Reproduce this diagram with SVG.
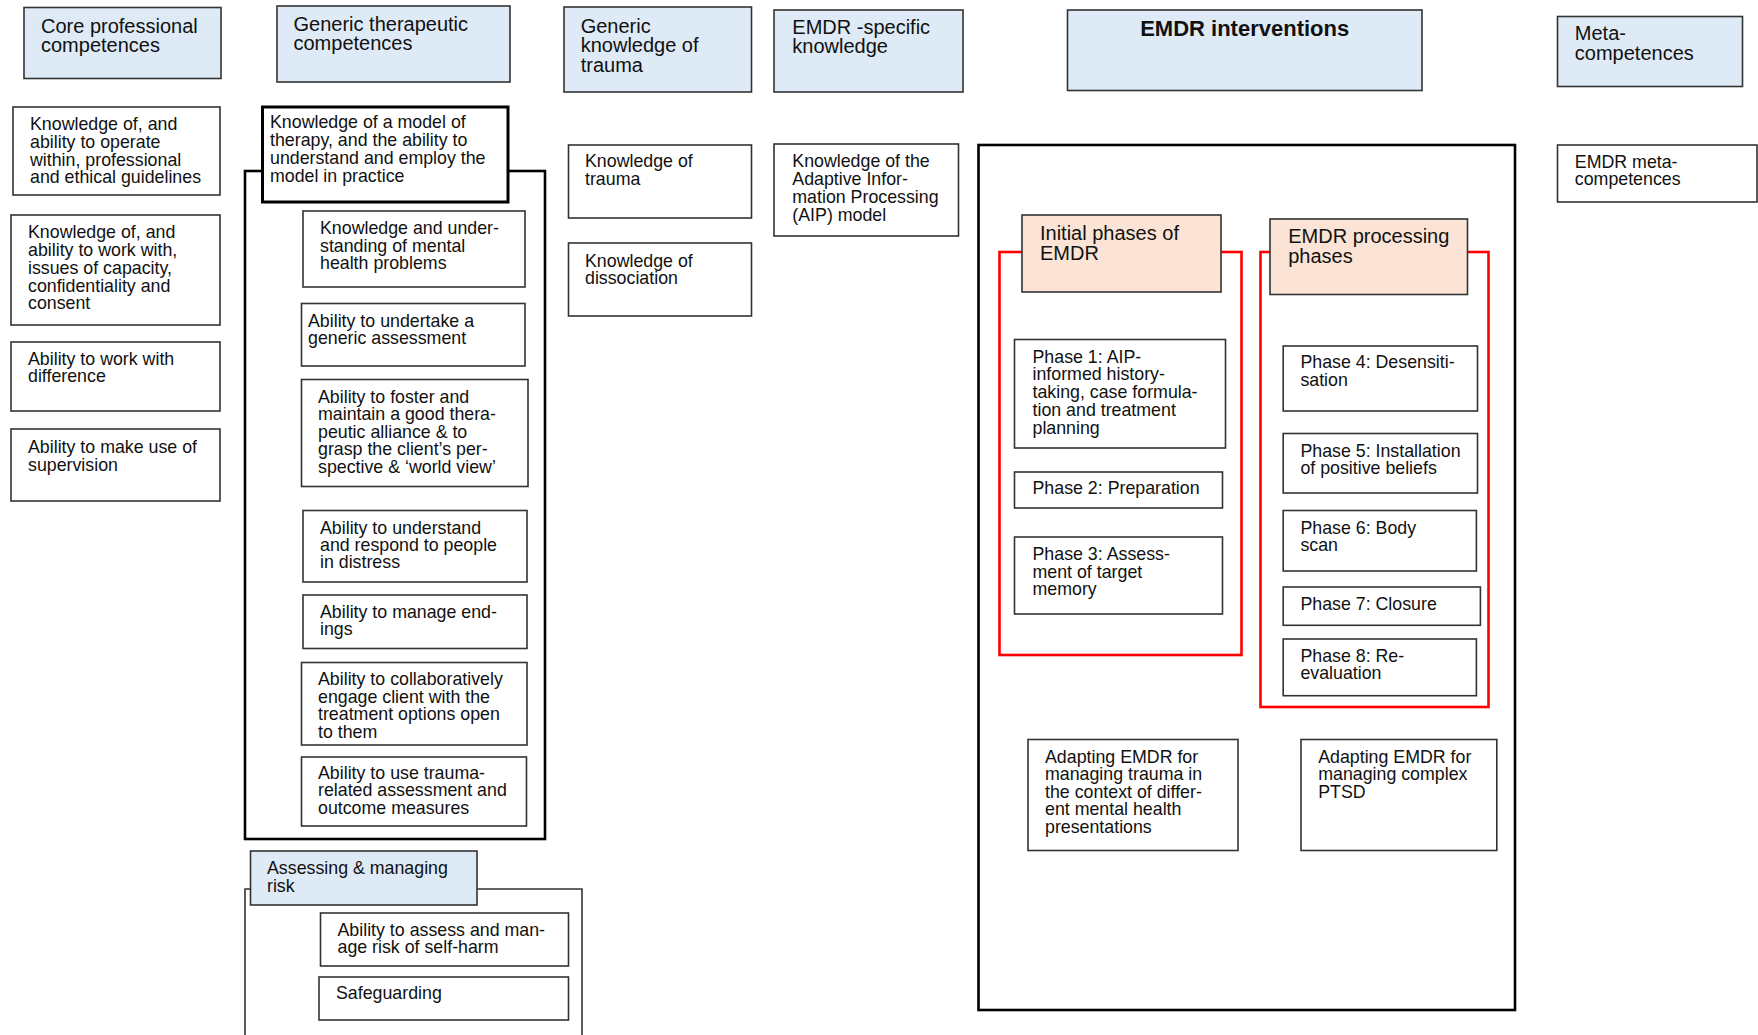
<svg xmlns="http://www.w3.org/2000/svg" width="1758" height="1035" viewBox="0 0 1758 1035">
<style>
text{font-family:"Liberation Sans",Arial,sans-serif;fill:#111;transform:translate(0px,1px);}
.b{font-size:17.8px;}
.h{font-size:20px;}
.hb{font-size:22px;font-weight:bold;}
.box{fill:#fff;stroke:#333;stroke-width:1.6;}
.hdr{fill:#deeaf6;stroke:#333;stroke-width:1.6;}
.pch{fill:#fbe4d5;stroke:#333;stroke-width:1.6;}
.thick{fill:#fff;stroke:#000;stroke-width:3;}
.frame{fill:none;stroke:#000;stroke-width:2.6;}
.thin{fill:none;stroke:#333;stroke-width:1.6;}
.red{fill:none;stroke:#ff0000;stroke-width:2.6;}
</style>
<rect width="1758" height="1035" fill="#fff"/>
<g id="frames">
<rect class="frame" x="245" y="171" width="300" height="668"/>
<path class="thin" d="M245,1035 V889 H582 V1035"/>
<rect class="frame" x="978.5" y="145" width="536.5" height="865" stroke-width="3"/>
<rect class="red" x="999.5" y="252" width="242" height="403"/>
<rect class="red" x="1260.5" y="252" width="228" height="455"/>
</g>
<g id="connectors"></g>

<g id="hdr-core"><rect class="hdr" x="24" y="7.5" width="197" height="71"/>
<text class="h"><tspan x="41" y="32">Core professional</tspan><tspan x="41" y="51">competences</tspan></text></g>
<g id="core-1"><rect class="box" x="13" y="107" width="207" height="88"/>
<text class="b"><tspan x="30" y="129">Knowledge of, and</tspan><tspan x="30" y="147">ability to operate</tspan><tspan x="30" y="164.5">within, professional</tspan><tspan x="30" y="182">and ethical guidelines</tspan></text></g>
<g id="core-2"><rect class="box" x="11" y="215" width="209" height="110"/>
<text class="b"><tspan x="28" y="237">Knowledge of, and</tspan><tspan x="28" y="255">ability to work with,</tspan><tspan x="28" y="273">issues of capacity,</tspan><tspan x="28" y="290.5">confidentiality and</tspan><tspan x="28" y="308">consent</tspan></text></g>
<g id="core-3"><rect class="box" x="11" y="342" width="209" height="69"/>
<text class="b"><tspan x="28" y="364">Ability to work with</tspan><tspan x="28" y="381">difference</tspan></text></g>
<g id="core-4"><rect class="box" x="11" y="429" width="209" height="72"/>
<text class="b"><tspan x="28" y="451.5">Ability to make use of</tspan><tspan x="28" y="470">supervision</tspan></text></g>

<g id="hdr-generic"><rect class="hdr" x="277" y="6" width="233" height="76"/>
<text class="h"><tspan x="293.5" y="30">Generic therapeutic</tspan><tspan x="293.5" y="48.5">competences</tspan></text></g>
<g id="gen-model"><rect class="thick" x="262.5" y="107" width="245.5" height="95"/>
<text class="b"><tspan x="270" y="127">Knowledge of a model of</tspan><tspan x="270" y="145">therapy, and the ability to</tspan><tspan x="270" y="162.7">understand and employ the</tspan><tspan x="270" y="181">model  in practice</tspan></text></g>
<g id="gen-1"><rect class="box" x="303" y="211" width="222" height="76"/>
<text class="b"><tspan x="320" y="233.3">Knowledge and under-</tspan><tspan x="320" y="250.7">standing of mental</tspan><tspan x="320" y="267.7">health problems</tspan></text></g>
<g id="gen-2"><rect class="box" x="301.5" y="303.5" width="223.5" height="62.5"/>
<text class="b"><tspan x="308" y="325.5">Ability to undertake a</tspan><tspan x="308" y="342.7">generic assessment</tspan></text></g>
<g id="gen-3"><rect class="box" x="301.5" y="379.5" width="226.5" height="107"/>
<text class="b"><tspan x="318" y="401.7">Ability to foster and</tspan><tspan x="318" y="419">maintain a good thera-</tspan><tspan x="318" y="436.7">peutic alliance &amp; to</tspan><tspan x="318" y="454.3">grasp the client’s per-</tspan><tspan x="318" y="471.7">spective &amp; ‘world view’</tspan></text></g>
<g id="gen-4"><rect class="box" x="303" y="510.5" width="224" height="71.5"/>
<text class="b"><tspan x="320" y="533.3">Ability to understand</tspan><tspan x="320" y="550.3">and respond to people</tspan><tspan x="320" y="567.3">in distress</tspan></text></g>
<g id="gen-5"><rect class="box" x="303" y="595" width="224" height="53.5"/>
<text class="b"><tspan x="320" y="616.7">Ability to manage end-</tspan><tspan x="320" y="634">ings</tspan></text></g>
<g id="gen-6"><rect class="box" x="301.5" y="662.5" width="225.5" height="82.5"/>
<text class="b"><tspan x="318" y="684">Ability to collaboratively</tspan><tspan x="318" y="702.3">engage client with the</tspan><tspan x="318" y="719.3">treatment options open</tspan><tspan x="318" y="736.7">to them</tspan></text></g>
<g id="gen-7"><rect class="box" x="301.5" y="757" width="225" height="69"/>
<text class="b"><tspan x="318" y="778.3">Ability to use trauma-</tspan><tspan x="318" y="795.3">related assessment and</tspan><tspan x="318" y="813.3">outcome measures</tspan></text></g>

<g id="hdr-risk"><rect class="hdr" x="250.5" y="851" width="226.5" height="54"/>
<text class="b"><tspan x="267" y="873.3">Assessing &amp; managing</tspan><tspan x="267" y="890.7">risk</tspan></text></g>
<g id="risk-1"><rect class="box" x="320.5" y="913" width="248" height="53"/>
<text class="b"><tspan x="337.5" y="935">Ability to assess and man-</tspan><tspan x="337.5" y="952.3">age risk of self-harm</tspan></text></g>
<g id="risk-2"><rect class="box" x="319" y="977" width="249.5" height="43"/>
<text class="b"><tspan x="336" y="998.3">Safeguarding</tspan></text></g>

<g id="hdr-trauma"><rect class="hdr" x="564" y="7" width="187.5" height="85"/>
<text class="h"><tspan x="580.7" y="31.5">Generic</tspan><tspan x="580.7" y="51">knowledge of</tspan><tspan x="580.7" y="70.5">trauma</tspan></text></g>
<g id="trauma-1"><rect class="box" x="568.5" y="145" width="183" height="73"/>
<text class="b"><tspan x="585" y="166">Knowledge of</tspan><tspan x="585" y="184.3">trauma</tspan></text></g>
<g id="trauma-2"><rect class="box" x="568.5" y="243" width="183" height="73"/>
<text class="b"><tspan x="585" y="265.7">Knowledge of</tspan><tspan x="585" y="282.7">dissociation</tspan></text></g>

<g id="hdr-emdr-know"><rect class="hdr" x="774" y="10" width="189" height="82"/>
<text class="h"><tspan x="792.3" y="32.7">EMDR -specific</tspan><tspan x="792.3" y="52.3">knowledge</tspan></text></g>
<g id="emdr-aip"><rect class="box" x="774" y="144" width="184.5" height="92"/>
<text class="b"><tspan x="792.3" y="166">Knowledge of the</tspan><tspan x="792.3" y="184.3">Adaptive Infor-</tspan><tspan x="792.3" y="201.7">mation Processing</tspan><tspan x="792.3" y="220">(AIP) model</tspan></text></g>

<g id="hdr-interventions"><rect class="hdr" x="1067.5" y="10" width="354.5" height="80.5"/>
<text class="hb" x="1244.7" y="35" text-anchor="middle">EMDR interventions</text></g>
<g id="initial-phases"><rect class="pch" x="1022" y="215" width="199" height="77"/>
<text class="h"><tspan x="1040" y="239.3">Initial phases of</tspan><tspan x="1040" y="259">EMDR</tspan></text></g>
<g id="phase-1"><rect class="box" x="1014.5" y="339.5" width="211" height="108.5"/>
<text class="b"><tspan x="1032.5" y="361.7">Phase 1: AIP-</tspan><tspan x="1032.5" y="379.3">informed history-</tspan><tspan x="1032.5" y="397.3">taking, case formula-</tspan><tspan x="1032.5" y="415">tion and treatment</tspan><tspan x="1032.5" y="432.7">planning</tspan></text></g>
<g id="phase-2"><rect class="box" x="1014.5" y="472" width="208" height="36"/>
<text class="b"><tspan x="1032.5" y="493.3">Phase 2: Preparation</tspan></text></g>
<g id="phase-3"><rect class="box" x="1014.5" y="537" width="208" height="77"/>
<text class="b"><tspan x="1032.5" y="559.3">Phase 3: Assess-</tspan><tspan x="1032.5" y="576.7">ment of target</tspan><tspan x="1032.5" y="594">memory</tspan></text></g>
<g id="processing-phases"><rect class="pch" x="1270" y="219" width="197.5" height="75.5"/>
<text class="h"><tspan x="1288.2" y="241.7">EMDR processing</tspan><tspan x="1288.2" y="261.7">phases</tspan></text></g>
<g id="phase-4"><rect class="box" x="1283.2" y="346" width="194.3" height="65"/>
<text class="b"><tspan x="1300.4" y="367.3">Phase 4: Desensiti-</tspan><tspan x="1300.4" y="385">sation</tspan></text></g>
<g id="phase-5"><rect class="box" x="1283.2" y="433.5" width="194.3" height="59.5"/>
<text class="b"><tspan x="1300.4" y="456">Phase 5: Installation</tspan><tspan x="1300.4" y="473.3">of positive beliefs</tspan></text></g>
<g id="phase-6"><rect class="box" x="1283.2" y="510.5" width="193.2" height="60.5"/>
<text class="b"><tspan x="1300.4" y="532.7">Phase 6: Body</tspan><tspan x="1300.4" y="550">scan</tspan></text></g>
<g id="phase-7"><rect class="box" x="1283.2" y="587" width="197.2" height="38.3"/>
<text class="b"><tspan x="1300.4" y="609.3">Phase 7: Closure</tspan></text></g>
<g id="phase-8"><rect class="box" x="1283.2" y="639" width="193.2" height="56.7"/>
<text class="b"><tspan x="1300.4" y="661">Phase 8: Re-</tspan><tspan x="1300.4" y="678.3">evaluation</tspan></text></g>
<g id="adapt-1"><rect class="box" x="1028" y="739.5" width="210" height="111"/>
<text class="b"><tspan x="1045" y="761.7">Adapting EMDR for</tspan><tspan x="1045" y="779">managing trauma in</tspan><tspan x="1045" y="796.7">the context of differ-</tspan><tspan x="1045" y="814.3">ent mental health</tspan><tspan x="1045" y="831.7">presentations</tspan></text></g>
<g id="adapt-2"><rect class="box" x="1301" y="739.5" width="195.8" height="111"/>
<text class="b"><tspan x="1318.2" y="761.7">Adapting EMDR for</tspan><tspan x="1318.2" y="779">managing complex</tspan><tspan x="1318.2" y="796.7">PTSD</tspan></text></g>

<g id="hdr-meta"><rect class="hdr" x="1557.5" y="16.5" width="185" height="70"/>
<text class="h"><tspan x="1574.8" y="39.3">Meta-</tspan><tspan x="1574.8" y="59">competences</tspan></text></g>
<g id="meta-1"><rect class="box" x="1557.5" y="145" width="199.5" height="57"/>
<text class="b"><tspan x="1574.8" y="166.7">EMDR meta-</tspan><tspan x="1574.8" y="184">competences</tspan></text></g>
</svg>
